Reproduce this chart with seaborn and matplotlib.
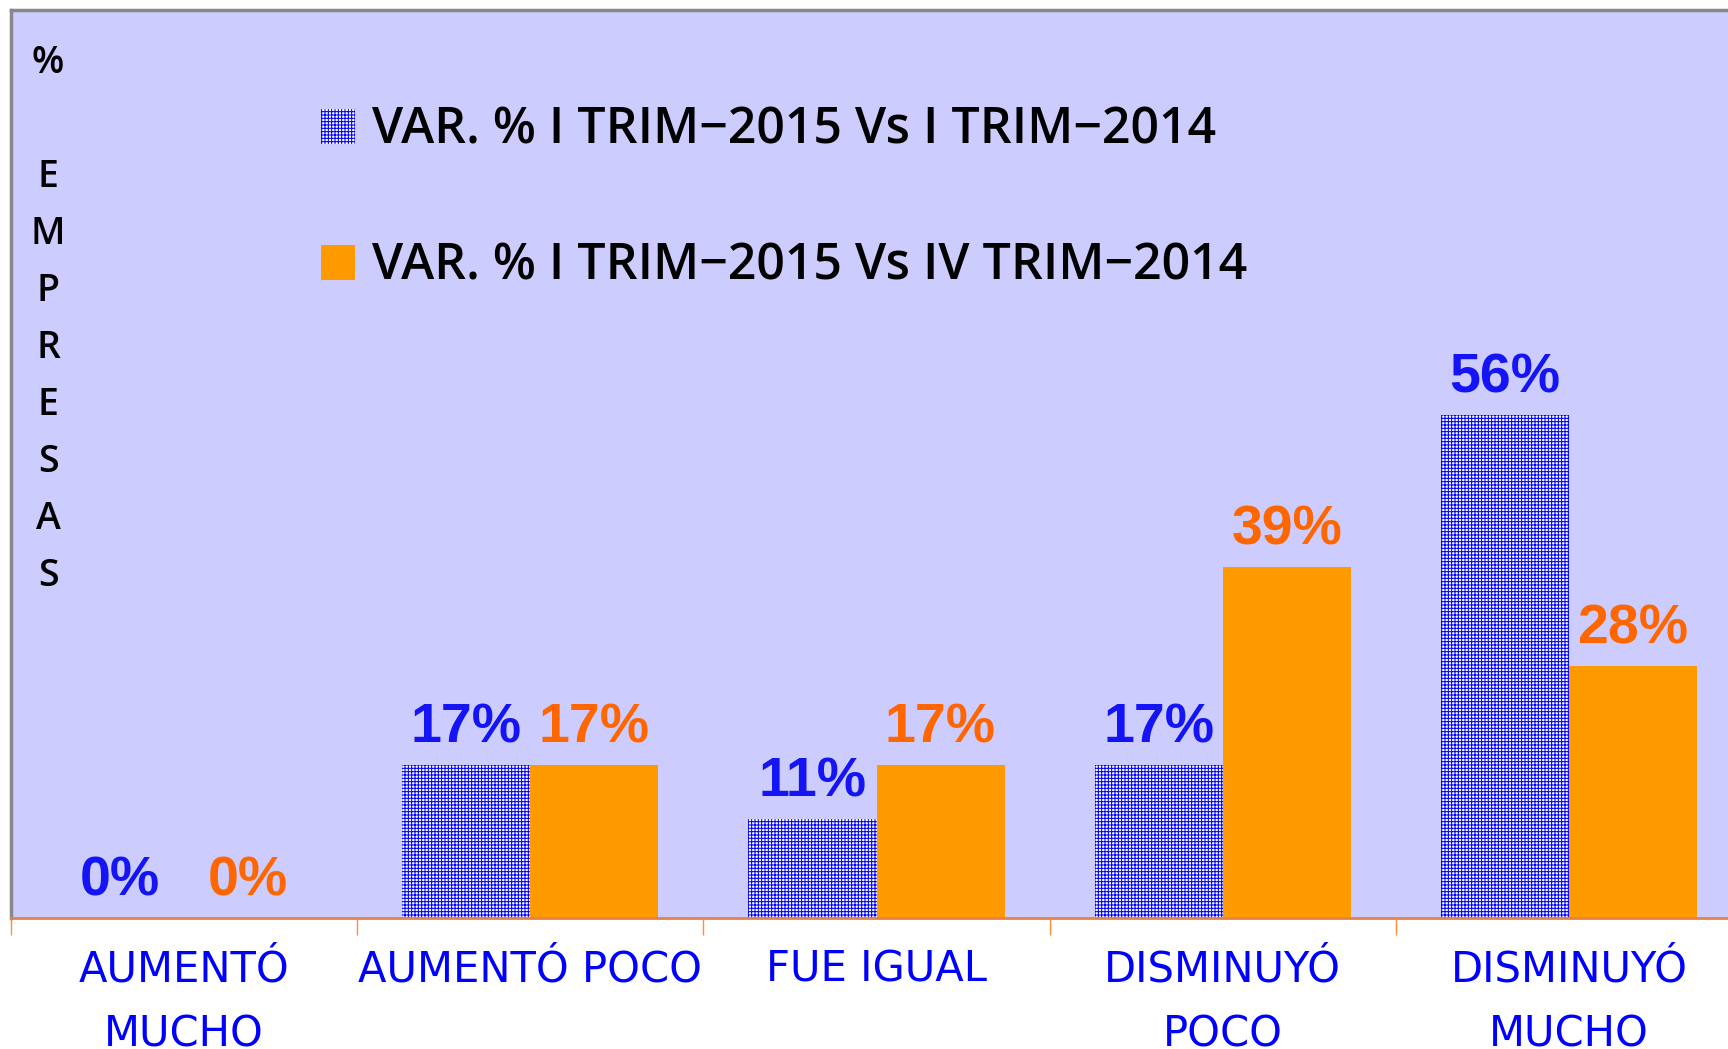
import pandas as pd
import numpy as np
import matplotlib.pyplot as plt
import matplotlib.patches as mpatches
import seaborn as sns

import warnings
warnings.filterwarnings("ignore")

categorias = ["AUMENTÓ\nMUCHO", "AUMENTÓ POCO", "FUE IGUAL", "DISMINUYÓ\nPOCO", "DISMINUYÓ\nMUCHO"]
serie_i = "VAR. % I TRIM\u22122015 Vs I TRIM\u22122014"
serie_iv = "VAR. % I TRIM\u22122015 Vs IV TRIM\u22122014"
valores_i = [0, 17, 11, 17, 56]
valores_iv = [0, 17, 17, 39, 28]

df = pd.DataFrame({
    "categoria": categorias * 2,
    "serie": [serie_i] * 5 + [serie_iv] * 5,
    "valor": valores_i + valores_iv,
})

sns.set_theme(style="white")
plt.rcParams["font.family"] = ["DejaVu Sans"]
plt.rcParams["text.color"] = "black"
plt.rcParams["hatch.linewidth"] = 0.75

fondo = "#CCCCFF"
azul = "#0000FF"
naranja = "#FF9900"
naranja_txt = "#FF6600"
trama = "+++++"

fig = plt.figure(figsize=(17.28, 10.49), dpi=100)
ax = fig.add_axes([11 / 1728, 131 / 1049, 1731 / 1728, 908 / 1049])
ax.set_facecolor(fondo)

sns.barplot(
    data=df,
    x="categoria",
    y="valor",
    hue="serie",
    palette=["white", naranja],
    width=0.74,
    gap=0,
    saturation=1,
    errorbar=None,
    legend=False,
    ax=ax,
)

# barras con trama azul (serie I TRIM-2014)
for p in ax.containers[0]:
    p.set_facecolor("white")
    p.set_edgecolor(azul)
    p.set_hatch(trama)
    p.set_linewidth(0)
for p in ax.containers[1]:
    p.set_linewidth(0)

ax.bar_label(
    ax.containers[0],
    labels=[f"{v}%" for v in valores_i],
    padding=7.5,
    color="#1414F5",
    fontsize=40,
    fontweight="bold",
    family="Liberation Sans",
)
ax.bar_label(
    ax.containers[1],
    labels=[f"{v}%" for v in valores_iv],
    padding=7.5,
    color=naranja_txt,
    fontsize=40,
    fontweight="bold",
    family="Liberation Sans",
)

ax.set_ylim(0, 101)
ax.set_xlim(-0.5, 4.5)
ax.set_yticks([])
ax.set_xlabel("")
ax.set_ylabel("")

ax.set_xticks(range(5))
ax.set_xticklabels(categorias, color=azul, fontsize=30, linespacing=1.69)
ax.set_xticks(np.arange(-0.5, 5, 1), minor=True)
ax.tick_params(axis="x", which="major", length=0, pad=22)
ax.tick_params(axis="x", which="minor", length=12, color="#FF8C40", width=1, bottom=True)

ax.spines["bottom"].set_color("#E8804A")
ax.spines["bottom"].set_linewidth(2)
for s in ["left", "top"]:
    ax.spines[s].set_color("#888888")
    ax.spines[s].set_linewidth(2.5)
ax.spines["right"].set_visible(False)

fig.text(
    48 / 1728, 1 - 44 / 1049,
    "%\n\nE\nM\nP\nR\nE\nS\nA\nS",
    ha="center", va="top",
    fontsize=27, linespacing=1.655,
    family=["Open Sans", "DejaVu Sans"], fontweight="semibold",
    color="black",
)

handles = [
    mpatches.Patch(facecolor="white", edgecolor=azul, hatch=trama, linewidth=0),
    mpatches.Patch(facecolor=naranja, linewidth=0),
]
leg = ax.legend(
    handles,
    [serie_i, serie_iv],
    loc="upper left",
    bbox_to_anchor=(321 / 1728, 1 - 106 / 1049),
    bbox_transform=fig.transFigure,
    frameon=False,
    prop={"family": ["Open Sans", "DejaVu Sans"], "size": 36, "weight": "semibold"},
    handlelength=0.68,
    handleheight=0.68,
    handletextpad=0.34,
    labelspacing=1.72,
    borderpad=0,
    borderaxespad=0,
)
for t in leg.get_texts():
    t.set_color("black")

plt.savefig("out.png", dpi=100)
